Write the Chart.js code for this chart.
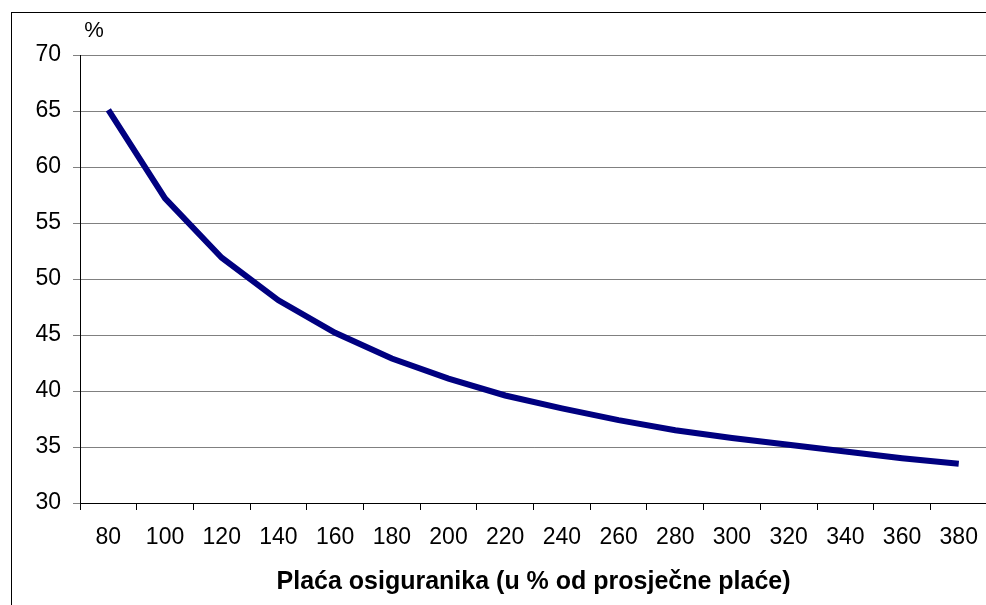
<!DOCTYPE html>
<html>
<head>
<meta charset="utf-8">
<script src="https://cdn.jsdelivr.net/npm/chart.js@4.4.0/dist/chart.umd.min.js"></script>
<style>
    html, body { margin: 0; padding: 0; background: #fff; overflow: hidden; }
    #wrap { width: 992px; height: 605px; }
</style>
</head>
<body>
<div id="wrap"><canvas id="chart"></canvas></div>
<script>
// plaća osiguranika (u % od prosječne plaće)
const wageLabels = ['80', '100', '120', '140', '160', '180', '200', '220', '240', '260', '280', '300', '320', '340', '360', '380'];
// vrijednosti u %
const rateValues = [65.1, 57.2, 51.9, 48.1, 45.2, 42.9, 41.1, 39.6, 38.45, 37.4, 36.5, 35.8, 35.2, 34.6, 34.0, 33.5];
const yTicks = {min: 30, max: 70, step: 5};

const fontFamily = '"Liberation Sans", Arial, sans-serif';

// okvir oko grafikona i oznaka "%"
const framePlugin = {
    id: 'frame',
    beforeDraw(chart) {
        const ctx = chart.ctx;
        ctx.save();
        ctx.strokeStyle = '#000';
        ctx.lineWidth = 1;
        ctx.strokeRect(11.5, 12.5, 2000, 2000);
        ctx.restore();
    },
    afterDraw(chart) {
        const ctx = chart.ctx;
        ctx.save();
        ctx.fillStyle = '#000';
        ctx.font = '22px ' + fontFamily;
        ctx.textAlign = 'center';
        ctx.textBaseline = 'middle';
        ctx.fillText('%', 94, 31);
        ctx.restore();
    }
};

let chart = new Chart(document.getElementById('chart'), {
    type: 'line',
    data: {
        labels: wageLabels,
        datasets: [{
            data: rateValues,
            borderColor: '#000080',
            borderWidth: 6,
            borderCapStyle: 'butt',
            pointRadius: 0,
            tension: 0,
            fill: false
        }]
    },
    options: {
        responsive: true,
        maintainAspectRatio: false,
        animation: false,
        layout: {padding: {top: 55, left: 0, right: 2, bottom: 0}},
        plugins: {
            legend: {display: false},
            tooltip: {enabled: false}
        },
        scales: {
            x: {
                offset: true,
                grid: {
                    offset: true,
                    drawOnChartArea: false,
                    drawTicks: true,
                    tickLength: 7,
                    color: '#000'
                },
                border: {display: true, color: '#000', width: 1},
                ticks: {
                    color: '#000',
                    font: {family: fontFamily, size: 23},
                    padding: 14,
                    maxRotation: 0,
                    autoSkip: false
                },
                title: {
                    display: true,
                    text: 'Plaća osiguranika (u % od prosječne plaće)',
                    color: '#000',
                    font: {family: fontFamily, size: 25, weight: 'bold'},
                    padding: {top: 0, bottom: 8}
                },
                afterFit(scale) {
                    scale.height = 102;
                }
            },
            y: {
                min: yTicks.min,
                max: yTicks.max,
                ticks: {
                    stepSize: yTicks.step,
                    color: '#000',
                    font: {family: fontFamily, size: 23},
                    padding: 12
                },
                grid: {
                    color: '#808080',
                    lineWidth: 1,
                    drawTicks: true,
                    tickLength: 7
                },
                border: {display: true, color: '#000', width: 1},
                afterFit(scale) {
                    scale.width = 80;
                }
            }
        }
    },
    plugins: [framePlugin]
});
</script>
</body>
</html>
